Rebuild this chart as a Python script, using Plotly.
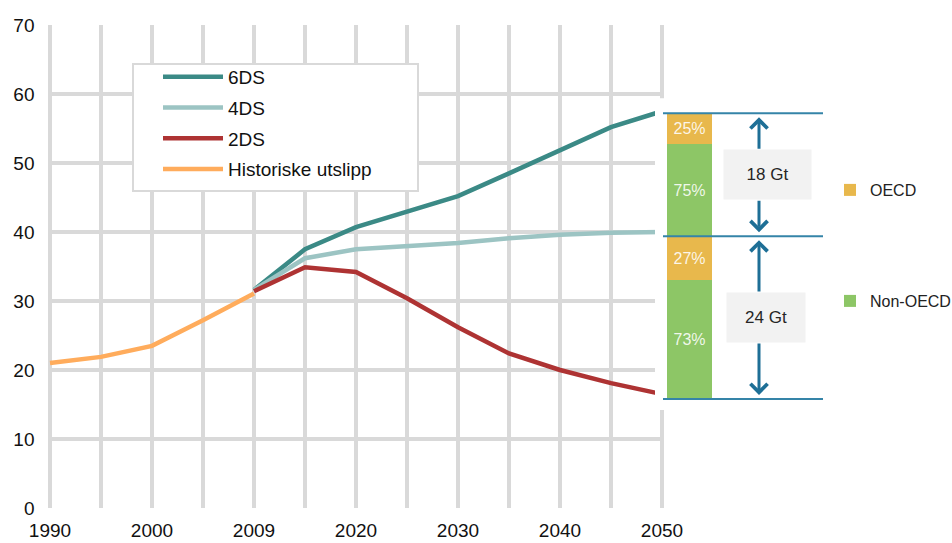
import plotly.graph_objects as go

# ---------------- data ----------------
years = ["1990", "1995", "2000", "2005", "2009", "2015", "2020", "2025",
         "2030", "2035", "2040", "2045", "2050"]
tick_labels = ["1990", "", "2000", "", "2009", "", "2020", "", "2030", "",
               "2040", "", "2050"]
y_ticks = [0, 10, 20, 30, 40, 50, 60, 70]

hist_years = years[:5]
hist_values = [21.0, 21.9, 23.5, 27.2, 31.1]

scen_years = years[4:]
ds6_values = [31.6, 37.5, 40.7, 42.9, 45.2, 48.5, 51.9, 55.2, 57.5]
ds4_values = [31.6, 36.2, 37.5, 38.0, 38.4, 39.1, 39.6, 39.9, 40.0]
ds2_values = [31.4, 34.9, 34.2, 30.4, 26.2, 22.4, 20.0, 18.1, 16.5]

# 2050 gap panel (bottom -> top): 2DS, 4DS, 6DS levels
gap_levels = [15.8, 39.4, 57.2]
gap_labels = ["24 Gt", "18 Gt"]
oecd_share = [27, 25]
non_oecd_share = [73, 75]

# ---------------- styling ----------------
W, H = 952, 543
ML, MR, MT, MB = 46, 0, 25, 35
PW = W - ML - MR
PH = H - MT - MB
PLOT_LEFT = 50
PLOT_RIGHT = 662
PANEL_LEFT = 655
PAD = 0.03  # category-units padding so edge gridlines are kept

FONT = "Liberation Sans, Arial, sans-serif"
GRID = "#d9d9d9"
C6, C4, C2, CH = "#3b8a86", "#9cc4c3", "#ae3333", "#ffac5c"
C_OECD, C_NON = "#e8b84c", "#8dc666"
C_LINE, C_ARROW = "#3584a8", "#1e6f96"


def py(px):
    """pixel row -> paper y"""
    return (MT + PH - px) / PH


def pxx(px):
    """pixel column -> paper x"""
    return (px - ML) / PW


n_int = len(years) - 1
unit_px = (PLOT_RIGHT - PLOT_LEFT) / n_int
x_dom = [pxx(PLOT_LEFT - PAD * unit_px), pxx(PLOT_RIGHT + PAD * unit_px)]

fig = go.Figure()

fig.add_trace(go.Scatter(x=hist_years, y=hist_values, mode="lines",
                         name="Historiske utslipp", line=dict(color=CH, width=4.5),
                         legendrank=4, legendgroup="h"))
fig.add_trace(go.Scatter(x=scen_years, y=ds6_values, mode="lines", name="6DS",
                         line=dict(color=C6, width=4.5), legendrank=1, legendgroup="a"))
fig.add_trace(go.Scatter(x=scen_years, y=ds4_values, mode="lines", name="4DS",
                         line=dict(color=C4, width=4.5), legendrank=2, legendgroup="b"))
fig.add_trace(go.Scatter(x=scen_years, y=ds2_values, mode="lines", name="2DS",
                         line=dict(color=C2, width=4.5), legendrank=3, legendgroup="c"))

# ---- gap panel bars (x2 units = pixels) ----
bar_x = 689.5
non_base, non_h, oecd_base, oecd_h = [], [], [], []
for i in range(2):
    lo, hi = gap_levels[i], gap_levels[i + 1]
    span = hi - lo
    g = span * non_oecd_share[i] / 100
    o = span * oecd_share[i] / 100
    non_base.append(lo)
    non_h.append(g)
    oecd_base.append(lo + g)
    oecd_h.append(o)

bar_text_font = dict(family=FONT, size=16, color="rgba(255,255,255,0.88)")
fig.add_trace(go.Bar(x=[bar_x, bar_x], y=non_h, base=non_base, width=45,
                     marker=dict(color=C_NON, line=dict(width=0)),
                     text=[f"{v}%" for v in non_oecd_share], textposition="inside",
                     insidetextanchor="middle", constraintext="none",
                     textfont=bar_text_font,
                     name="Non-OECD", xaxis="x2", yaxis="y2", legend="legend3",
                     hoverinfo="skip"))
fig.add_trace(go.Bar(x=[bar_x, bar_x], y=oecd_h, base=oecd_base, width=45,
                     marker=dict(color=C_OECD, line=dict(width=0)),
                     text=[f"{v}%" for v in oecd_share], textposition="inside",
                     insidetextanchor="middle", constraintext="none",
                     textfont=bar_text_font,
                     name="OECD", xaxis="x2", yaxis="y2", legend="legend2",
                     hoverinfo="skip"))

shapes = []
# white cover of the pasted panel (between grid and traces of the panel subplot)
shapes.append(dict(type="rect", xref="x2", yref="y2", layer="between",
                   x0=PANEL_LEFT, x1=W, y0=14.2, y1=59.4,
                   fillcolor="white", line=dict(width=0)))
# horizontal level lines
for lv in gap_levels:
    shapes.append(dict(type="line", xref="x2", yref="y2", layer="above",
                       x0=663, x1=823, y0=lv, y1=lv,
                       line=dict(color=C_LINE, width=2)))
# main legend box
shapes.append(dict(type="rect", xref="paper", yref="paper", layer="above",
                   x0=pxx(133), x1=pxx(418), y0=py(191), y1=py(64),
                   fillcolor="white", line=dict(color=GRID, width=2)))

annotations = []
px_per_unit = PH / 70.0
box_w = [78, 87]
box_h = 49
box_x = [766, 767]
for i in range(2):
    lo, hi = gap_levels[i], gap_levels[i + 1]
    mid = (lo + hi) / 2
    half = (box_h / 2) / px_per_unit
    annotations.append(dict(x=box_x[i], y=mid, xref="x2", yref="y2",
                            text=gap_labels[i], showarrow=False,
                            bgcolor="#f2f2f2", width=box_w[i], height=box_h,
                            borderpad=0,
                            font=dict(family=FONT, size=17, color="#262626")))
    # up arrow
    annotations.append(dict(x=759, y=hi, ax=759, ay=mid + half,
                            xref="x2", yref="y2", axref="x2", ayref="y2",
                            text="", showarrow=True, arrowhead=4, arrowsize=1.1,
                            arrowwidth=3, arrowcolor=C_ARROW, standoff=4))
    # down arrow
    annotations.append(dict(x=759, y=lo, ax=759, ay=mid - half,
                            xref="x2", yref="y2", axref="x2", ayref="y2",
                            text="", showarrow=True, arrowhead=4, arrowsize=1.1,
                            arrowwidth=3, arrowcolor=C_ARROW, standoff=4))

fig.update_layout(
    width=W, height=H,
    margin=dict(l=ML, r=MR, t=MT, b=MB, autoexpand=False),
    paper_bgcolor="white",
    plot_bgcolor="rgba(0,0,0,0)",
    font=dict(family=FONT, size=19, color="#111111"),
    barmode="overlay",
    showlegend=True,
    xaxis=dict(type="category", categoryorder="array", categoryarray=years,
               domain=x_dom, range=[-PAD, n_int + PAD],
               tickmode="array", tickvals=years, ticktext=tick_labels,
               showgrid=True, gridcolor=GRID, gridwidth=4,
               showline=False, zeroline=False, ticks="", automargin=False,
               ticklabelstandoff=9,
               tickfont=dict(size=19, color="#111111")),
    yaxis=dict(range=[0, 70], tickvals=y_ticks, showgrid=True, gridcolor=GRID,
               gridwidth=4, zeroline=False, showline=False, ticks="",
               automargin=False,
               ticklabelstandoff=13, tickfont=dict(size=19, color="#111111")),
    xaxis2=dict(domain=[pxx(PANEL_LEFT), 1], range=[PANEL_LEFT, W],
                anchor="y2", visible=False, showgrid=False, zeroline=False),
    yaxis2=dict(domain=[0, 1], range=[0, 70], anchor="x2", visible=False,
                showgrid=False, zeroline=False),
    legend=dict(x=pxx(158), y=py(58), xanchor="left",
                yanchor="top", bgcolor="rgba(0,0,0,0)", borderwidth=0,
                traceorder="grouped", tracegroupgap=3, itemwidth=60,
                font=dict(family=FONT, size=19, color="#111111")),
    legend2=dict(x=pxx(830), y=py(190), xanchor="left",
                 yanchor="middle", bgcolor="rgba(0,0,0,0)", borderwidth=0,
                 font=dict(family=FONT, size=16, color="#222222")),
    legend3=dict(x=pxx(830), y=py(301), xanchor="left",
                 yanchor="middle", bgcolor="rgba(0,0,0,0)", borderwidth=0,
                 font=dict(family=FONT, size=16, color="#222222")),
    shapes=shapes,
    annotations=annotations,
)

fig.write_html("out.html",
               config={"displayModeBar": False},
               post_script="document.body.style.margin='0';"
                           "document.body.style.padding='0';"
                           "document.body.style.overflow='hidden';")
